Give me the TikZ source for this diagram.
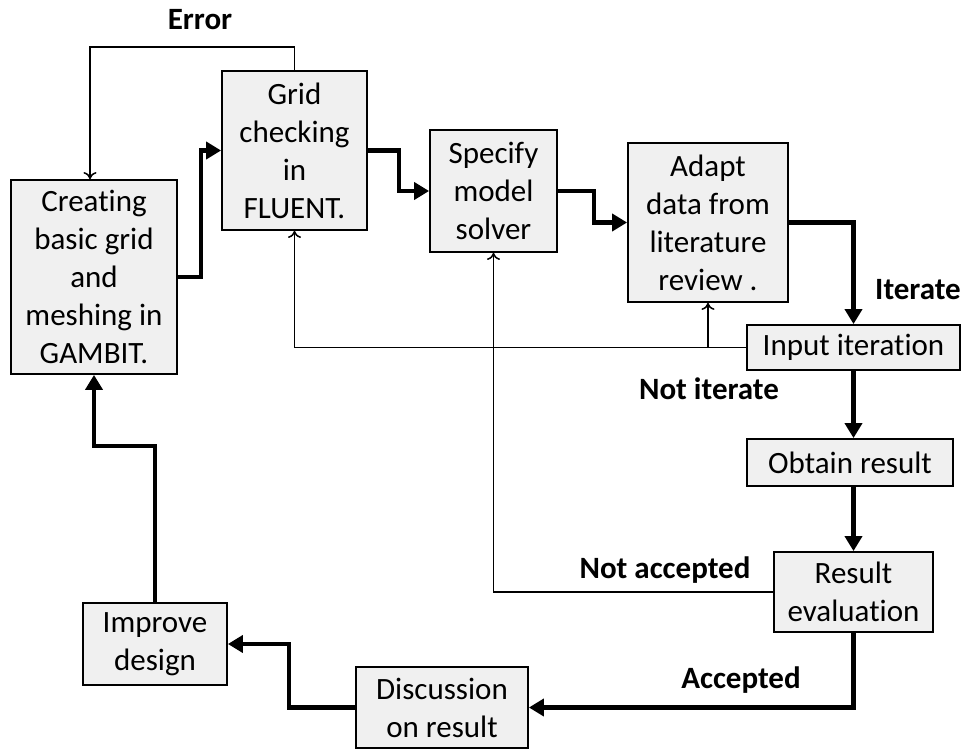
\documentclass[tikz,border=0pt]{standalone}
\usepackage{fontspec}
\setmainfont{Carlito}[Ligatures=NoCommon]
\usetikzlibrary{arrows.meta}

\begin{document}
\begin{tikzpicture}[x=1pt, y=-1pt,
  box/.style={draw, line width=1.8pt, fill=black!6, align=center, inner sep=0pt,
    font=\fontsize{31}{38}\selectfont},
  flow/.style={line width=4.5pt, line join=miter, -{Triangle[length=15pt,width=17pt]}},
  back/.style={line width=1.5pt, -{To[length=7pt,width=13pt]}},
  lbl/.style={font=\fontsize{31}{38}\selectfont\bfseries}]
\useasboundingbox (0,0) rectangle (970,749);

% boxes
\node[box, minimum width=166pt, minimum height=194pt] (gambit) at (94,277)
  {Creating\\basic grid\\and\\meshing in\\GAMBIT.};
\node[box, minimum width=145pt, minimum height=159pt] (fluent) at (294.5,150.5)
  {Grid\\checking\\in\\FLUENT.};
\node[box, minimum width=127pt, minimum height=122pt] (solver) at (493.5,191)
  {Specify\\model\\solver};
\node[box, minimum width=160pt, minimum height=159pt] (adapt) at (708,222.5)
  {Adapt\\data from\\literature\\review .};
\node[box, minimum width=213pt, minimum height=45pt] (input) at (853.5,347.5)
  {Input iteration};
\node[box, minimum width=206pt, minimum height=47pt] (obtain) at (850,462.5)
  {Obtain result};
\node[box, minimum width=159pt, minimum height=80pt] (evaluate) at (853.5,592)
  {Result\\evaluation};
\node[box, minimum width=172pt, minimum height=81pt] (discuss) at (442,707.5)
  {Discussion\\on result};
\node[box, minimum width=144pt, minimum height=82pt] (improve) at (155,644)
  {Improve\\design};

% labels
\node[lbl] (error) at (200,20) {Error};
\node[lbl] (iter) at (918,290) {Iterate};
\node[lbl] (noiter) at (709,389) {Not iterate};
\node[lbl] (noacc) at (665,570) {Not accepted};
\node[lbl] (acc) at (741,680) {Accepted};

% main flow
\draw[flow] (gambit.east) -- ++(23,0) |- (fluent.west);
\draw[flow] (fluent.east) -- ++(31,0) |- (solver.west);
\draw[flow] (solver.east) -- ++(36,0) |- (adapt.west);
\draw[flow] (adapt.east) -| (input.north);
\draw[flow] (input.south) -- (input.south |- obtain.north);
\draw[flow] (obtain.south -| input.south) -- (evaluate.north -| input.south);
\draw[flow] (evaluate.south) |- (discuss.east);
\draw[flow] (discuss.west) -- ++(-66,0) |- (improve.east);
\draw[flow] (improve.north) -- ++(0,-156) -| (gambit.south);

% feedback
\draw[back] (fluent.north) -- ++(0,-23) -| ([xshift=-4pt]gambit.north);
\draw[back] (input.west) -| (fluent.south);
\draw[back] (adapt.south |- input.west) -- (adapt.south);
\draw[back] (evaluate.west) -| (solver.south);

\end{tikzpicture}
\end{document}
